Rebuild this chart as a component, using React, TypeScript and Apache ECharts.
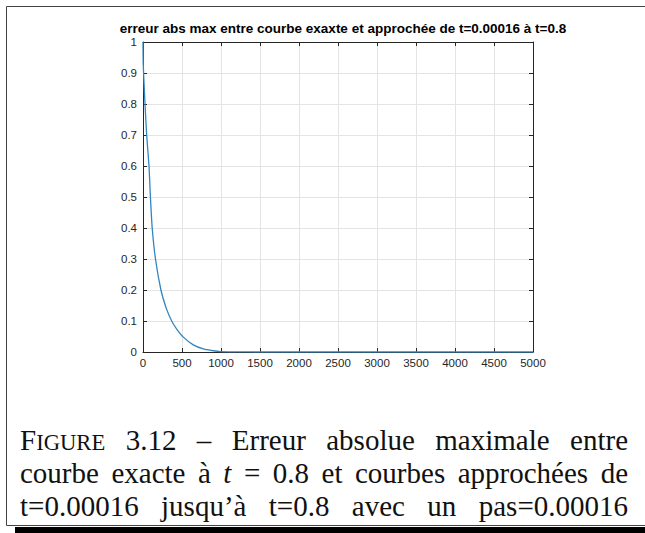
import React, { useEffect, useRef } from 'react';
import * as echarts from 'echarts';

// ---- data ----
const errX = [0, 3, 20, 47, 77, 95, 118, 160, 230, 300, 368, 432, 517, 645, 773, 901, 1000, 1200, 1500, 2000, 2500, 3000, 3500, 4000, 4500, 5000];
const errY = [1.0, 0.93, 0.83, 0.7, 0.6, 0.5, 0.4, 0.3, 0.2, 0.14, 0.1, 0.074, 0.048, 0.023, 0.01, 0.004, 0.0015, 0.0003, 0, 0, 0, 0, 0, 0, 0, 0];
const xTickStep = 500;
const yTickStep = 0.1;
const titleText = 'erreur abs max entre courbe exaxte et approchée de t=0.00016 à t=0.8';

type Seg = { t: string; s?: number; i?: boolean };
const captionLines: Seg[][][] = [
  [[{ t: 'F' }, { t: 'IGURE', s: 0.78 }], [{ t: '3.12' }], [{ t: '–' }], [{ t: 'Erreur' }], [{ t: 'absolue' }], [{ t: 'maximale' }], [{ t: 'entre' }]],
  [[{ t: 'courbe' }], [{ t: 'exacte' }], [{ t: 'à' }], [{ t: 't', i: true }], [{ t: '=' }], [{ t: '0.8' }], [{ t: 'et' }], [{ t: 'courbes' }], [{ t: 'approchées' }], [{ t: 'de' }]],
  [[{ t: 't=0.00016' }], [{ t: 'jusqu’à' }], [{ t: 't=0.8' }], [{ t: 'avec' }], [{ t: 'un' }], [{ t: 'pas=0.00016' }]],
];

const CAP_FONT = 'Liberation Serif';
const CAP_SIZE = 29;
const CAP_X0 = 20;
const CAP_X1 = 628;
const CAP_BASE = [450, 483, 516];

function buildCaption(): any[] {
  const canvas = document.createElement('canvas');
  const ctx = canvas.getContext('2d')!;
  const els: any[] = [];
  captionLines.forEach((words, li) => {
    const measured = words.map((w) =>
      w.map((seg) => {
        const size = CAP_SIZE * (seg.s || 1);
        ctx.font = `${seg.i ? 'italic ' : ''}${size}px "${CAP_FONT}"`;
        return { ...seg, size, width: ctx.measureText(seg.t).width };
      })
    );
    const wordWidths = measured.map((w) => w.reduce((a, s) => a + s.width, 0));
    const total = wordWidths.reduce((a, b) => a + b, 0);
    const gap = (CAP_X1 - CAP_X0 - total) / (words.length - 1);
    let x = CAP_X0;
    measured.forEach((w, wi) => {
      let sx = x;
      w.forEach((seg) => {
        els.push({
          type: 'text',
          x: sx,
          y: CAP_BASE[li] - 0.35 * seg.size,
          style: {
            text: seg.t,
            fontFamily: CAP_FONT,
            fontSize: seg.size,
            fontStyle: seg.i ? 'italic' : 'normal',
            fill: '#111',
            textAlign: 'left',
            textVerticalAlign: 'middle',
          },
        });
        sx += seg.width;
      });
      x += wordWidths[wi] + gap;
    });
  });
  return els;
}

export default function App() {
  const ref = useRef<HTMLDivElement>(null);
  useEffect(() => {
    if (!ref.current) return;
    const chart = echarts.init(ref.current, undefined, { renderer: 'svg' });
    const axisColor = '#262626';
    const gridColor = '#e4e4e4';
    const labelFont = 'Liberation Sans';
    const data = errX.map((x, i) => [x, errY[i]]);
    const frame = [
      { type: 'line', shape: { x1: 6.5, y1: 6.5, x2: 645, y2: 6.5 }, style: { stroke: '#444', lineWidth: 1 } },
      { type: 'line', shape: { x1: 6.5, y1: 6.5, x2: 6.5, y2: 525.5 }, style: { stroke: '#444', lineWidth: 1 } },
      { type: 'line', shape: { x1: 6.5, y1: 525.5, x2: 645, y2: 525.5 }, style: { stroke: '#444', lineWidth: 1 } },
      { type: 'rect', shape: { x: 15, y: 527, width: 630, height: 6 }, style: { fill: '#000' } },
    ];
    chart.setOption({
      animation: false,
      backgroundColor: '#fff',
      title: {
        text: titleText,
        left: 338,
        top: 16,
        textAlign: 'center',
        textStyle: { fontFamily: labelFont, fontWeight: 'bold', fontSize: 13.5, color: '#000' },
      },
      grid: { left: 143, top: 42, right: 112, bottom: 181, containLabel: false },
      xAxis: [
        {
          type: 'value',
          min: 0,
          max: 5000,
          interval: xTickStep,
          axisLine: { show: true, lineStyle: { color: axisColor, width: 1 } },
          axisTick: { show: true, inside: true, length: 4, lineStyle: { color: axisColor } },
          axisLabel: {
            color: axisColor,
            fontFamily: labelFont,
            fontSize: 11.5,
            margin: 5,
            formatter: (v: number) => String(v),
          },
          splitLine: { show: true, lineStyle: { color: gridColor, width: 1 } },
        },
        {
          type: 'value',
          position: 'top',
          min: 0,
          max: 5000,
          interval: xTickStep,
          axisLine: { show: true, onZero: false, lineStyle: { color: axisColor, width: 1 } },
          axisTick: { show: true, inside: true, length: 4, lineStyle: { color: axisColor } },
          axisLabel: { show: false },
          splitLine: { show: false },
        },
      ],
      yAxis: [
        {
          type: 'value',
          min: 0,
          max: 1,
          interval: yTickStep,
          axisLine: { show: true, lineStyle: { color: axisColor, width: 1 } },
          axisTick: { show: true, inside: true, length: 4, lineStyle: { color: axisColor } },
          axisLabel: {
            color: axisColor,
            fontFamily: labelFont,
            fontSize: 11.5,
            margin: 6,
            formatter: (v: number) => String(Math.round(v * 10) / 10),
          },
          splitLine: { show: true, lineStyle: { color: gridColor, width: 1 } },
        },
        {
          type: 'value',
          position: 'right',
          min: 0,
          max: 1,
          interval: yTickStep,
          axisLine: { show: true, onZero: false, lineStyle: { color: axisColor, width: 1 } },
          axisTick: { show: true, inside: true, length: 4, lineStyle: { color: axisColor } },
          axisLabel: { show: false },
          splitLine: { show: false },
        },
      ],
      series: [
        {
          type: 'line',
          data,
          xAxisIndex: 0,
          yAxisIndex: 0,
          showSymbol: false,
          smooth: 0.2,
          lineStyle: { color: '#2f86c0', width: 1.3 },
          z: 5,
        },
      ],
      graphic: [...frame, ...buildCaption()],
    });
    return () => chart.dispose();
  }, []);
  return <div ref={ref} style={{ position: 'absolute', left: 0, top: 0, width: 645, height: 533 }} />;
}
